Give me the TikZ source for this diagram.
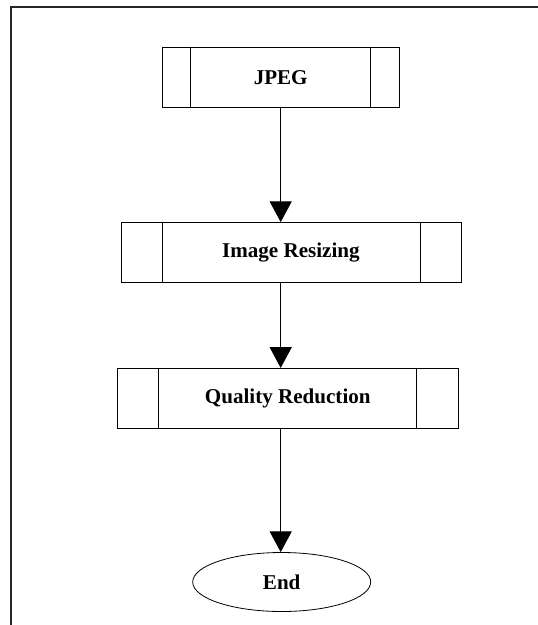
\documentclass[tikz,border=0pt]{standalone}
\usepackage{fontspec}
\setmainfont{Liberation Serif}
\usetikzlibrary{arrows.meta,shapes.geometric}

% Flowchart of the image compression steps
\tikzset{
  proc/.style={draw=black, line width=0.6pt, rectangle, minimum height=60*0.75pt,
    inner sep=0pt, font=\fontsize{15.8pt}{18pt}\selectfont\bfseries},
  term/.style={draw=black, line width=0.6pt, ellipse, inner sep=0pt,
    minimum width=178*0.75pt, minimum height=59*0.75pt,
    font=\fontsize{15.8pt}{18pt}\selectfont\bfseries},
  bar/.style={draw=black, line width=0.6pt},
  flow/.style={draw=black, line width=0.6pt,
    -{Triangle[width=16.5pt,length=15.5pt]}},
  frame/.style={draw=black!85, line width=0.9pt}
}

\begin{document}
\begin{tikzpicture}[x=0.75pt, y=-0.75pt]
  \useasboundingbox (0,0) rectangle (537,625);

  % open frame on the top and left
  \coordinate (fbl) at (11,626);
  \coordinate (ftl) at (11,7);
  \coordinate (ftr) at (538,7);
  \draw[frame] (fbl) -- (ftl) -- (ftr);

  % process boxes with side bars
  \node[proc, minimum width=237*0.75pt] (jpeg) at (280.7,77.3) {JPEG};
  \draw[bar] ([xshift=29*0.75pt]jpeg.north west) -- ([xshift=29*0.75pt]jpeg.south west);
  \draw[bar] ([xshift=-29*0.75pt]jpeg.north east) -- ([xshift=-29*0.75pt]jpeg.south east);

  \node[proc, minimum width=340*0.75pt] (resize) at (290.9,252.5) {Image Resizing};
  \draw[bar] ([xshift=41.5*0.75pt]resize.north west) -- ([xshift=41.5*0.75pt]resize.south west);
  \draw[bar] ([xshift=-41*0.75pt]resize.north east) -- ([xshift=-41*0.75pt]resize.south east);

  \node[proc, minimum width=341*0.75pt] (quality) at (287.8,398.3) {Quality Reduction};
  \draw[bar] ([xshift=41.7*0.75pt]quality.north west) -- ([xshift=41.7*0.75pt]quality.south west);
  \draw[bar] ([xshift=-42.3*0.75pt]quality.north east) -- ([xshift=-42.3*0.75pt]quality.south east);

  % terminal
  \node[term] (end) at (281.7,582) {End};

  % connectors
  \draw[flow] (jpeg.south) -- (jpeg.south |- resize.north);
  \draw[flow] (jpeg.south |- resize.south) -- (jpeg.south |- quality.north);
  \draw[flow] (jpeg.south |- quality.south) -- (jpeg.south |- end.north);
\end{tikzpicture}
\end{document}
